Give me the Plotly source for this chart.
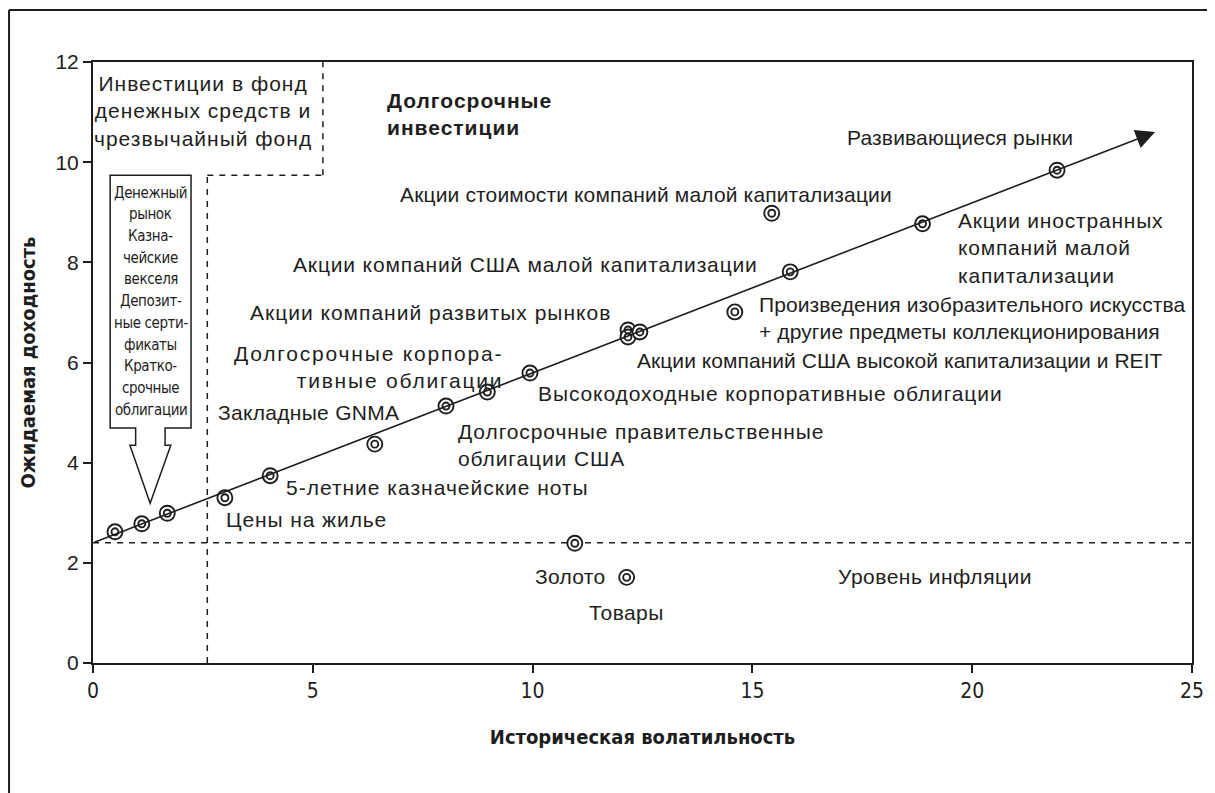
import plotly.graph_objects as go

# ---- data ----
volatility = [0.5, 1.11, 1.69, 3.0, 4.03, 6.41, 8.03, 8.97, 9.94,
              12.17, 12.17, 12.44, 14.6, 15.86, 15.44, 18.87, 21.93,
              10.96, 12.14]
exp_return = [2.62, 2.78, 2.99, 3.30, 3.74, 4.37, 5.13, 5.41, 5.79,
              6.65, 6.51, 6.61, 7.01, 7.81, 8.98, 8.77, 9.84,
              2.39, 1.71]

trend_x = [0, 24.16]
trend_y = [2.4, 10.6]
inflation_rate = 2.4
x_ticks = [0, 5, 10, 15, 20, 25]
y_ticks = [0, 2, 4, 6, 8, 10, 12]

labels = [
    "Развивающиеся рынки",
    "Акции стоимости компаний малой капитализации",
    "Акции иностранных<br>компаний малой<br>капитализации",
    "Акции компаний США малой капитализации",
    "Произведения изобразительного искусства<br>+ другие предметы коллекционирования",
    "Акции компаний развитых рынков",
    "Долгосрочные корпора-<br>тивные облигации",
    "Акции компаний США высокой капитализации и REIT",
    "Высокодоходные корпоративные облигации",
    "Закладные GNMA",
    "Долгосрочные правительственные<br>облигации США",
    "5-летние казначейские ноты",
    "Цены на жилье",
    "Золото",
    "Уровень инфляции",
    "Товары",
]
# label layout: (x, y, xanchor, letter spacing px)
label_pos = [
    (17.11, 10.50, "left", 0.15),
    (6.94, 9.35, "left", 0.15),
    (19.63, 8.29, "left", 0.8),
    (4.50, 7.95, "left", 0.85),
    (15.10, 6.89, "left", 0.1),
    (3.53, 6.99, "left", 1.0),
    (9.37, 5.91, "right", 1.8),
    (12.33, 6.05, "left", 0.05),
    (10.08, 5.39, "left", 0.9),
    (2.80, 5.00, "left", 0.3),
    (8.26, 4.35, "left", 0.9),
    (4.34, 3.51, "left", 1.0),
    (2.98, 2.86, "left", 0.9),
    (10.01, 1.72, "left", 0.3),
    (16.90, 1.72, "left", 0.5),
    (11.24, 1.00, "left", 0.4),
]

cash_title = "Инвестиции в фонд<br>денежных средств и<br>чрезвычайный фонд"
long_title = "Долгосрочные<br>инвестиции"
cash_items = ["Денежный", "рынок", "Казна-", "чейские", "векселя", "Депозит-",
              "ные серти-", "фикаты", "Кратко-", "срочные", "облигации"]
x_title = "Историческая волатильность"
y_title = "Ожидаемая доходность"

INK = "#1e1e1e"
FONT = "Liberation Sans, Arial, sans-serif"
NARROW = "Liberation Sans Narrow, DejaVu Sans Condensed, sans-serif"


def spaced(text, sp, bold=False):
    out = []
    for ln in text.split("<br>"):
        s = '<span style="letter-spacing:%.2fpx">%s</span>' % (sp, ln)
        if bold:
            s = "<b>" + s + "</b>"
        out.append(s)
    return "<br>".join(out)


fig = go.Figure()

# points: double ring markers
fig.add_trace(go.Scatter(
    x=volatility, y=exp_return, mode="markers",
    marker=dict(symbol="circle", size=15, color="white",
                line=dict(color=INK, width=1.9)),
    hoverinfo="skip", showlegend=False))
fig.add_trace(go.Scatter(
    x=volatility, y=exp_return, mode="markers",
    marker=dict(symbol="circle-open", size=7, color=INK,
                line=dict(color=INK, width=1.9)),
    hoverinfo="skip", showlegend=False))

shapes = []
dash = "6px,6px"
shapes.append(dict(type="line", xref="x", yref="y", x0=0, x1=25,
                   y0=inflation_rate, y1=inflation_rate,
                   line=dict(color=INK, width=1.5, dash=dash), layer="below"))
shapes.append(dict(type="line", xref="x", yref="y", x0=2.6, x1=2.6, y0=0, y1=9.74,
                   line=dict(color=INK, width=1.5, dash=dash), layer="below"))
shapes.append(dict(type="line", xref="x", yref="y", x0=2.6, x1=5.23, y0=9.74, y1=9.74,
                   line=dict(color=INK, width=1.5, dash=dash), layer="below"))
shapes.append(dict(type="line", xref="x", yref="y", x0=5.23, x1=5.23, y0=9.74, y1=12,
                   line=dict(color=INK, width=1.5, dash=dash), layer="below"))
box_path = ("M 0.39,9.74 L 2.23,9.74 L 2.23,4.69 L 1.64,4.69 L 1.64,4.35 "
            "L 1.77,4.35 L 1.30,3.19 L 0.84,4.35 L 0.97,4.35 L 0.97,4.69 "
            "L 0.39,4.69 Z")
shapes.append(dict(type="path", xref="x", yref="y", path=box_path,
                   line=dict(color=INK, width=1.5), fillcolor="white"))
shapes.append(dict(type="line", xref="paper", yref="paper",
                   x0=-0.0764, x1=1.03, y0=1.0865, y1=1.0865,
                   line=dict(color=INK, width=2)))
shapes.append(dict(type="line", xref="paper", yref="paper",
                   x0=-0.0764, x1=-0.0764, y0=1.0865, y1=-0.23,
                   line=dict(color=INK, width=2)))

annotations = []
annotations.append(dict(x=trend_x[1], y=trend_y[1], ax=trend_x[0], ay=trend_y[0],
                        xref="x", yref="y", axref="x", ayref="y", text="",
                        showarrow=True, arrowhead=2, arrowsize=2.4,
                        arrowwidth=1.6, arrowcolor=INK))
for txt, (lx, ly, anc, sp) in zip(labels, label_pos):
    annotations.append(dict(x=lx, y=ly, xref="x", yref="y", text=spaced(txt, sp),
                            showarrow=False, xanchor=anc, yanchor="middle",
                            align=anc, font=dict(family=FONT, size=21, color=INK)))
annotations.append(dict(x=2.50, y=11.02, xref="x", yref="y", text=spaced(cash_title, 1.0),
                        showarrow=False, xanchor="center", yanchor="middle",
                        align="center", font=dict(family=FONT, size=21, color=INK)))
annotations.append(dict(x=6.64, y=10.96, xref="x", yref="y",
                        text=spaced(long_title, 1.0, bold=True),
                        showarrow=False, xanchor="left", yanchor="middle",
                        align="left", font=dict(family=FONT, size=21, color=INK)))
for i, line in enumerate(cash_items):
    annotations.append(dict(x=1.31, y=9.39 - 0.433 * i, xref="x", yref="y",
                            text='<span style="letter-spacing:-0.4px">%s</span>' % line,
                            showarrow=False, xanchor="center", yanchor="middle",
                            font=dict(family=NARROW, size=15, color=INK)))

fig.update_layout(
    width=1207, height=785,
    margin=dict(l=85, r=23, t=54, b=130),
    paper_bgcolor="white", plot_bgcolor="white",
    shapes=shapes, annotations=annotations,
    showlegend=False,
    xaxis=dict(range=[0, 25], tickvals=x_ticks, ticks="outside", ticklen=8,
               tickwidth=1.5, tickcolor=INK, showgrid=False, zeroline=False,
               showline=True, linecolor=INK, linewidth=2, mirror=True,
               tickfont=dict(family=NARROW, size=21, color=INK),
               title=dict(text="<b>" + x_title + "</b>", standoff=28,
                          font=dict(family=NARROW, size=20, color=INK))),
    yaxis=dict(range=[0, 12], tickvals=y_ticks, ticks="outside", ticklen=8,
               tickwidth=1.5, tickcolor=INK, showgrid=False, zeroline=False,
               showline=True, linecolor=INK, linewidth=2, mirror=True,
               tickfont=dict(family=FONT, size=21, color=INK),
               title=dict(text="<b>" + y_title + "</b>", standoff=14,
                          font=dict(family=NARROW, size=20, color=INK))),
)

fig.write_html("out.html")
